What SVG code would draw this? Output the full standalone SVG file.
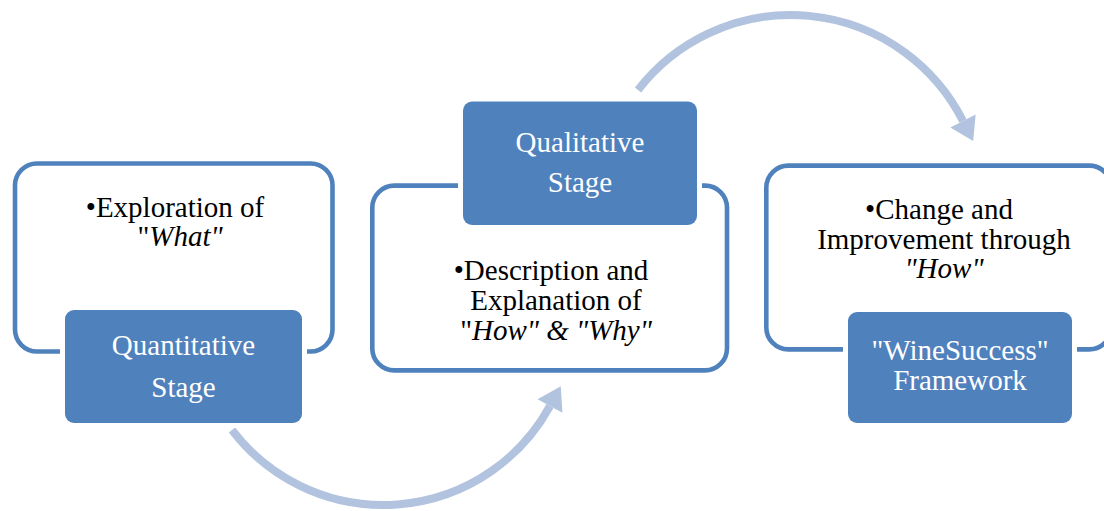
<svg xmlns="http://www.w3.org/2000/svg" width="1104" height="511" viewBox="0 0 1104 511">
  <style>
    .frame { fill: #FFFFFF; stroke: #4F81BD; stroke-width: 4.6; }
    .stage { fill: #4F81BD; stroke: #FFFFFF; stroke-width: 10; paint-order: stroke; }
    .body { fill: #000000; }
    .label { fill: #FFFFFF; }
    .it { font-style: italic; }
    .flow { fill: none; stroke: #B1C3DE; stroke-width: 8; stroke-linecap: butt; }
  </style>
  <defs>
    <marker id="head" markerUnits="userSpaceOnUse" markerWidth="40" markerHeight="40" refX="0" refY="0" viewBox="-2 -12 20 24" orient="auto" overflow="visible">
      <path d="M0,-8.5 L13.5,0 L0,8.5 Z" fill="#B1C3DE"/>
    </marker>
  </defs>

  <!-- curved connectors between stages -->
  <g id="connectors">
    <path class="flow" d="M232,430 A190,190 0 0 0 550,406" marker-end="url(#head)"/>
    <path class="flow" d="M638,90 A193,193 0 0 1 963,121" marker-end="url(#head)"/>
  </g>

  <g font-family="'Liberation Serif', 'Times New Roman', serif" font-size="29" text-anchor="middle">
    <!-- stage 1: quantitative -->
    <g id="quantitative">
      <rect class="frame" x="15" y="163.5" width="317.5" height="188" rx="22"/>
      <text class="body" x="175" y="217">•Exploration of</text>
      <text class="body" x="180" y="246">"<tspan class="it">What"</tspan></text>
      <rect class="stage" x="65" y="310" width="237" height="113" rx="9"/>
      <text class="label" x="183.5" y="355">Quantitative</text>
      <text class="label" x="183.5" y="397">Stage</text>
    </g>

    <!-- stage 2: qualitative -->
    <g id="qualitative">
      <rect class="frame" x="372.3" y="185.6" width="354.7" height="184.8" rx="22"/>
      <text class="body" x="551" y="280">•Description and</text>
      <text class="body" x="556" y="310">Explanation of</text>
      <text class="body" x="556" y="340">"<tspan class="it">How" &amp; "Why"</tspan></text>
      <rect class="stage" x="463" y="101.5" width="234" height="123.5" rx="9"/>
      <text class="label" x="580" y="152">Qualitative</text>
      <text class="label" x="580" y="192">Stage</text>
    </g>

    <!-- stage 3: framework -->
    <g id="framework">
      <rect class="frame" x="766.3" y="165.6" width="345" height="183.8" rx="22"/>
      <text class="body" x="939" y="219">•Change and</text>
      <text class="body" x="944" y="249">Improvement through</text>
      <text class="body it" x="944" y="278">"How"</text>
      <rect class="stage" x="848" y="312" width="224" height="111" rx="9"/>
      <text class="label" x="960" y="360">"WineSuccess"</text>
      <text class="label" x="960" y="390">Framework</text>
    </g>
  </g>
</svg>
